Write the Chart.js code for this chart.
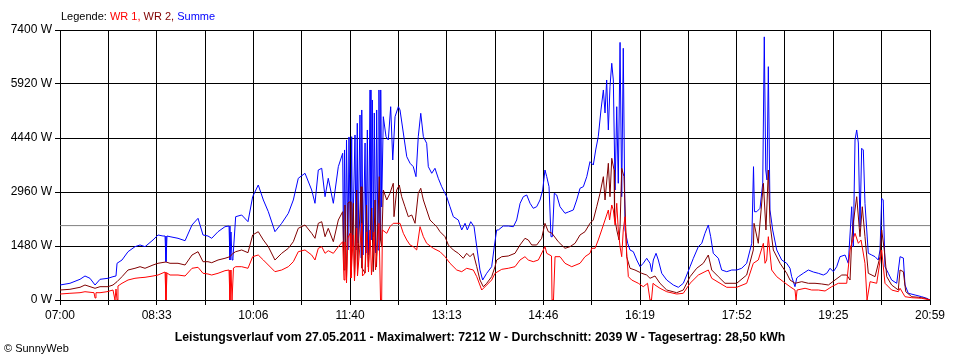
<!DOCTYPE html>
<html>
<head>
<meta charset="utf-8">
<script src="https://cdn.jsdelivr.net/npm/chart.js@4.4.1/dist/chart.umd.min.js"></script>
<style>
  body { margin: 0; background: #fff; }
  #wrap { position: relative; width: 960px; height: 360px; background: #fff; font-family: 'Liberation Sans', Arial, sans-serif; }
  #legend { position: absolute; left: 61px; top: 10px; font-size: 11px; color: #000; white-space: nowrap; }
  #caption { position: absolute; left: 0; top: 330px; width: 960px; text-align: center; font-size: 12.3px; font-weight: bold; white-space: nowrap; }
  #copy { position: absolute; left: 4px; top: 342px; font-size: 11px; white-space: nowrap; }
</style>
</head>
<body>
<div id="wrap">
  <canvas id="powerChart" width="960" height="360"></canvas>
  <div id="legend">Legende: <span style="color:#ff0000">WR 1,</span> <span style="color:#800000">WR 2,</span> <span style="color:#0000ff">Summe</span></div>
  <div id="caption">Leistungsverlauf vom 27.05.2011 - Maximalwert: 7212 W - Durchschnitt: 2039 W - Tagesertrag: 28,50 kWh</div>
  <div id="copy">&copy; SunnyWeb</div>
</div>
<script>
// minutes after 07:00, watts
const timeLabels = ['07:00', '08:33', '10:06', '11:40', '13:13', '14:46', '16:19', '17:52', '19:25', '20:59'];
const dayMinutes = 839;
const average = 2039;

const summe = [
  [0,411],[9.6,458],[19.3,567],[24.1,658],[28.9,595],[33.8,411],[38.6,567],[46.3,595],[51.1,639],[54,658],
  [55,1006],[59.8,1096],[65.6,1324],[72.3,1461],[77.2,1508],[82,1461],[89.7,1645],[94.5,1782],[99.3,1754],[101.3,1754],
  [102.2,1050],[103.2,1754],[106.1,1735],[113.8,1691],[120.6,1625],[127.3,2056],[133.1,2239],[137.9,1782],[142.7,1754],[146.3,1691],
  [152.4,1872],[159.1,2009],[163,2028],[163.9,1096],[164.9,1864],[165.9,1096],[166.8,1151],[169.4,2283],[175.2,2330],[181.3,2146],
  [185.8,2831],[191.2,3152],[196.1,2741],[200.9,2420],[207.3,1872],[213.8,2102],[220.2,2376],[225,2741],[229.8,3336],[236.3,3473],
  [242.7,3015],[245.9,2650],[249.1,3563],[252.4,3610],[255.6,2831],[258.7,3336],[263.6,2650],[268.4,3654],[272.6,4021],
  [273.4,1371],[274.4,4112],[275.3,1233],[276.3,4386],[277.7,1371],[278.7,4468],[280.2,1233],[281.3,4476],[282.1,1461],[284.5,4523],
  [285.5,1371],[286.7,4843],[287.4,1562],[289.3,5071],[290.3,1151],[291,5208],[292.2,1233],[294.2,4303],[295.1,1288],[296.4,4660],
  [297.5,1233],[299,5756],[299.9,1645],[301.2,5482],[302.1,1727],[303.1,5126],[304.3,1288],[305.4,5208],[306.7,1371],[307.6,5756],
  [308.6,1645],[309.3,5756],[310.2,2549],[311.8,5024],[314.4,4476],[316.6,4386],[318.9,5298],[320.9,3837],[323.1,5024],[326.3,5298],
  [327.9,5208],[331.1,4577],[334.4,3928],[337.6,3747],[340.7,3654],[343.3,3380],[345.5,4476],[347.9,5117],[350.4,4476],[353.6,4295],
  [355.2,3654],[358.5,3473],[361.6,3610],[364.8,3336],[368.1,3106],[372.9,2831],[376.1,2557],[379.3,2283],[384.1,2193],[387.4,1919],
  [390.6,2102],[392.8,1919],[396.1,2146],[399.3,2009],[401.9,1461],[405,822],[407.6,548],[411.5,732],[416.3,913],[418.8,1461],
  [421.1,1919],[422.7,1919],[427.5,2028],[432.3,2028],[437.2,2009],[440.4,2193],[443.7,2650],[446.8,2831],[450.1,2878],[453.3,2650],
  [456.4,2513],[459.7,2557],[462.9,2741],[465.5,3015],[467.7,3563],[469.4,3380],[471.6,3106],[473.5,1735],[474.8,1735],[476.7,2925],
  [479,2878],[482.2,2557],[487,2376],[490.2,2412],[495,2467],[498.3,2741],[501.5,3062],[504.7,3106],[508,3380],[511.1,3791],
  [514.3,3700],[516.6,4112],[519.1,4476],[521.7,5208],[524,5756],[525.6,5126],[527.2,6030],[528.8,4660],[530.4,5846],[532.1,6488],
  [533.6,6030],[535.3,3015],[536.9,5298],[538.4,3199],[540.1,7060],[541.7,2831],[543.2,6899],[544.9,1919],[547.5,1554],[549.7,1371],
  [552.9,1324],[556.2,1096],[559.4,913],[562.5,1006],[565.8,1143],[569,1006],[570.6,776],[572.2,1096],[574.8,1280],[577,1096],
  [580.3,732],[585.1,548],[591.5,411],[596.3,348],[601.1,458],[604.4,685],[607.6,913],[610.8,1143],[615.6,1461],[618.9,1554],
  [622,1828],[625.2,2056],[627.5,1735],[630,1280],[634.9,1143],[638.1,822],[643,776],[647.8,822],[652.6,822],[657.4,869],
  [662.2,1006],[667.1,1554],[668.8,3654],[669.7,2420],[671.9,2420],[675.1,2513],[677.7,3199],[679.2,7212],[680.6,3563],[681.8,3289],
  [683.1,6395],[684.7,2467],[687.3,1919],[691.2,1371],[696,1096],[700.8,1006],[704,869],[705.6,639],[708.8,365],[710.5,603],
  [712,639],[716.8,732],[721.7,822],[726.5,767],[731.3,732],[736.1,685],[739.4,732],[742.6,869],[745.8,776],[749,913],
  [752.2,1187],[757.1,1233],[760.2,1006],[763.5,2557],[765,1461],[766.7,4386],[768.3,4660],[769.9,4303],[771.5,2009],[773.1,4158],
  [774.7,4112],[776.3,2650],[778,1919],[779.5,1280],[782.8,1233],[786,1187],[789.1,1096],[790.8,1371],[792.4,2788],[793.9,2741],
  [795.6,913],[798.8,732],[802,548],[806.9,458],[810.1,1187],[813.3,1151],[814.9,411],[818.1,184],[824.6,137],[831,90],
  [835.8,47],[839,0]
];

const wr2 = [
  [0,274],[9.6,293],[19.3,348],[24.1,411],[33.8,321],[38.6,365],[46.3,365],[51.1,411],[55,502],[59.8,639],
  [65.6,822],[72.3,869],[77.2,913],[82,869],[89.7,959],[94.5,1006],[102.2,1042],[106.1,1006],[113.8,1006],[120.6,959],
  [127.3,1233],[133.1,1324],[137.9,1050],[142.7,1050],[146.3,1022],[152.4,1096],[159.1,1143],[163.9,1187],[166.8,1280],[169.4,1324],
  [175.2,1371],[181.3,1296],[185.8,1782],[191.2,1872],[196.1,1645],[200.9,1461],[207.3,1096],[213.8,1280],[220.2,1417],[225,1598],
  [229.8,1965],[236.3,2056],[242.7,1828],[245.9,1691],[249.1,2102],[252.4,2146],[255.6,1735],[258.7,1965],[263.6,1598],[268.4,2193],
  [272.6,2420],[273.9,822],[274.8,2604],[276.3,603],[277.7,2659],[279.7,2694],[280.6,685],[282.9,2650],[284,603],[286.1,3015],
  [286.9,822],[290.3,3105],[291.2,877],[294.2,740],[295.6,2604],[297.3,905],[300.6,2522],[302.1,776],[303.8,2741],[305.2,905],
  [307.9,3380],[309.1,1645],[310.2,1461],[311.8,3015],[315.1,2741],[318.2,2925],[321.4,3199],[322.1,2283],[324.7,3015],[327.2,3152],
  [329.5,2831],[332.7,2557],[335.9,2283],[339.2,2330],[342.4,2102],[345.5,2925],[347.9,3062],[350.4,2741],[353.6,2467],[356.8,2193],
  [360,2102],[363.3,2009],[366.5,1872],[371.3,1735],[374.5,1508],[379.3,1371],[384.1,1280],[388.9,1143],[392.2,1280],[395.4,1187],
  [398.6,1280],[401.9,913],[405,548],[408.2,365],[411.5,458],[416.3,639],[419.5,913],[421.1,1096],[426,1187],[432.3,1206],
  [438.8,1280],[443.6,1508],[448.4,1691],[451.6,1645],[454.9,1508],[459.7,1508],[464.5,1691],[467.7,2102],[470.9,1872],[474.2,1836],
  [480.5,1598],[487,1417],[491.8,1461],[496.7,1554],[501.5,1782],[506.3,1872],[511.1,2102],[514.3,2193],[517.6,2557],[520.8,2925],
  [524,3380],[525.6,2741],[528.8,3747],[530.4,2831],[532.1,3884],[534.3,3563],[534.8,2283],[536.9,1919],[539.1,1645],[540.1,2009],
  [541.7,3610],[543.9,3380],[546.5,1187],[549.7,869],[554.5,822],[561,732],[565.8,685],[569,595],[573.8,658],[578.6,458],
  [585.1,274],[594.7,200],[601.1,274],[607.6,639],[614,869],[620.4,1006],[625.2,1233],[628.5,822],[634.9,639],[641.3,458],
  [652.6,458],[662.2,685],[668.6,1371],[669.3,2102],[673.4,1554],[678.3,3199],[680.8,1919],[683.1,3563],[684.7,2102],[687.9,1371],
  [694.4,1006],[700.8,732],[704,548],[708.8,458],[715.3,502],[721.7,458],[728.1,458],[734.6,439],[741,411],[747.4,548],
  [753.9,685],[758.7,685],[761.9,548],[763.5,1645],[765,2110],[768.3,2831],[771.5,1735],[773.7,2557],[776.3,1735],[779.5,732],
  [786,639],[790.8,1187],[792.4,1919],[794.9,1371],[797.3,639],[802,411],[808.4,274],[810.1,822],[813.3,776],[815.6,227],
  [821.4,90],[827.8,74],[834.2,47],[839,0]
];

const wr1 = [
  [0,164],[9.6,184],[19.3,200],[24.1,227],[32.8,200],[33.8,55],[34.7,200],[38.6,200],[45.3,227],[51.1,274],
  [53,0],[54,301],[55,0],[55.9,384],[59.8,458],[65.6,548],[72.3,595],[77.2,611],[82,622],[89.7,658],
  [94.5,685],[101.3,767],[102.2,0],[103.2,740],[106.1,685],[113.8,685],[120.6,658],[127.3,869],[133.1,896],[137.9,732],
  [142.7,713],[146.3,685],[152.4,732],[159.1,803],[163,822],[163.9,0],[164.9,822],[165.9,0],[167.3,877],[169.4,913],
  [175.2,913],[181.3,869],[185.8,1187],[191.2,1233],[196.1,1096],[200.9,959],[207.3,776],[213.8,822],[220.2,913],[225,1050],
  [229.8,1324],[236.3,1371],[242.7,1233],[245.9,1096],[249.1,1417],[252.4,1461],[255.6,1280],[258.7,1351],[263.6,1280],[268.4,1461],
  [272.6,1598],[273.9,548],[274.8,1590],[276.3,466],[277.7,1699],[279.7,1828],[280.6,603],[282.9,1782],[284,521],[286.1,1973],
  [286.9,658],[291,2102],[291.7,658],[294.2,740],[295.8,1864],[297.5,767],[299,1919],[300.4,685],[302.8,1864],[304.3,822],
  [307.6,2102],[309.1,0],[310.2,0],[310.9,1919],[315.1,1828],[318.2,2009],[321.4,2102],[327.9,2102],[331.1,1828],[334.4,1645],
  [337.6,1508],[340.7,1461],[344,1371],[347.2,2009],[350.4,1735],[353.6,1554],[360,1417],[366.5,1324],[371.3,1187],[376.1,1006],
  [382.6,822],[387.4,776],[392.2,869],[398.6,822],[401.9,639],[406.7,274],[411.5,411],[416.3,548],[419.5,732],[426,841],
  [432.3,869],[438.8,913],[443.6,1096],[448.4,1187],[451.6,1096],[456.4,1050],[461.3,1096],[466.1,1371],[467.7,1461],[469.4,1280],
  [474,1206],[474.5,0],[475.9,0],[477.4,1187],[482.2,1187],[487,1006],[493.5,913],[501.5,1006],[506.3,1187],[511.1,1280],
  [512.8,1417],[516,1417],[519.1,1645],[522.4,1919],[525.6,2193],[528.8,2467],[530,2193],[532.1,2604],[533.6,2467],[535.3,2056],
  [536.9,2650],[538.4,1919],[540.1,1461],[541.7,1187],[543.2,1919],[544.9,2283],[546.5,1280],[548.1,639],[551.3,548],[557.7,458],
  [562.5,365],[566.6,458],[569,0],[570.4,0],[571.9,458],[573.8,411],[578.6,321],[585.1,227],[594.7,164],[601.1,184],
  [607.6,458],[615.6,685],[622,776],[625.2,822],[628.5,595],[636.5,458],[643,348],[652.6,348],[662.2,458],[668.6,1006],
  [673.4,1096],[678.3,1554],[679.9,1006],[681.5,1096],[683.1,1735],[686.3,822],[691.2,639],[697.5,502],[704,365],[708.8,274],
  [709.8,0],[710.8,274],[718.5,321],[724.9,274],[731.3,274],[737.8,247],[744.2,365],[750.6,458],[758.7,458],[761.9,1371],
  [763.5,1554],[766.7,1828],[769.9,1554],[772.5,1645],[776.3,1006],[778.3,0],[779.2,0],[781.2,502],[787.6,458],[792.4,1371],
  [795.6,458],[802,274],[808.4,227],[810.1,321],[814.9,90],[821.4,63],[831,47],[839,0]
];

const toPoints = rows => rows.map(r => ({ x: r[0], y: r[1] }));

const ctx = document.getElementById('powerChart').getContext('2d');
const powerChart = new Chart(ctx, {
    type: 'line',
    data: {
        datasets: [{
            label: 'WR 1',
            data: toPoints(wr1),
            borderColor: '#ff0000',
            borderWidth: 1,
            pointRadius: 0,
            fill: false
        }, {
            label: 'WR 2',
            data: toPoints(wr2),
            borderColor: '#800000',
            borderWidth: 1,
            pointRadius: 0,
            fill: false
        }, {
            label: 'Summe',
            data: toPoints(summe),
            borderColor: '#0000ff',
            borderWidth: 1,
            pointRadius: 0,
            fill: false
        }, {
            label: 'Durchschnitt',
            data: [{ x: 0, y: average }, { x: dayMinutes, y: average }],
            borderColor: '#808080',
            borderWidth: 1,
            pointRadius: 0,
            fill: false
        }]
    },
    options: {
        responsive: false,
        animation: false,
        devicePixelRatio: 1,
        layout: { padding: { top: 30, right: 30, left: 0, bottom: 0 } },
        plugins: {
            legend: { display: false },
            tooltip: { enabled: false }
        },
        scales: {
            x: {
                type: 'linear',
                min: 0,
                max: dayMinutes,
                afterBuildTicks: scale => {
                    scale.ticks = [];
                    for (let i = 0; i <= 18; i++) scale.ticks.push({ value: i * dayMinutes / 18 });
                },
                afterFit: scale => { scale.height = 60; },
                grid: { color: '#000', lineWidth: 1, tickLength: 5, tickColor: '#000' },
                border: { color: '#000' },
                ticks: {
                    autoSkip: false,
                    maxRotation: 0,
                    padding: 3,
                    color: '#000',
                    font: { family: "'Liberation Sans', Arial, sans-serif", size: 12 },
                    callback: (value, index) => index % 2 === 0 ? timeLabels[index / 2] : ''
                }
            },
            y: {
                min: 0,
                max: 7400,
                afterFit: scale => { scale.width = 60; },
                grid: { color: '#000', lineWidth: 1, tickLength: 5, tickColor: '#000' },
                border: { color: '#000' },
                ticks: {
                    stepSize: 1480,
                    padding: 3,
                    color: '#000',
                    font: { family: "'Liberation Sans', Arial, sans-serif", size: 12 },
                    callback: value => value + ' W'
                }
            }
        }
    }
});
</script>
</body>
</html>
